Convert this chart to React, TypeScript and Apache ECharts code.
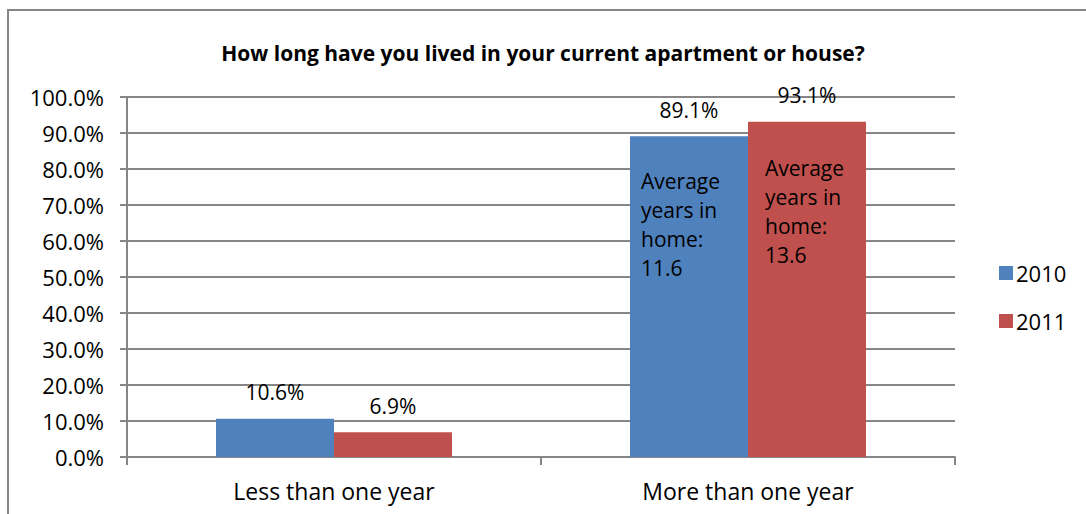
import React, { useEffect, useRef } from "react";
import * as echarts from "echarts";

const categories = ["Less than one year", "More than one year"];
const seriesNames = ["2010", "2011"];
const values2010 = [0.106, 0.891];
const values2011 = [0.069, 0.931];
const notes2010 = ["", "Average\nyears in\nhome:\n11.6"];
const notes2011 = ["", "Average\nyears in\nhome:\n13.6"];
const yTicks = [0, 0.1, 0.2, 0.3, 0.4, 0.5, 0.6, 0.7, 0.8, 0.9, 1.0];
const title = "How long have you lived in your current apartment or house?";

const FONT = "Open Sans";
const BLUE = "#4F81BD";
const RED = "#C0504D";
const GRAY = "#868686";

export default function App() {
  const ref = useRef<HTMLDivElement>(null);
  useEffect(() => {
    if (!ref.current) return;
    const chart = echarts.init(ref.current, undefined, { renderer: "svg" });
    const pct = (v: number) => (v * 100).toFixed(1) + "%";
    const noteSeries = (name: string, vals: number[], notes: string[], offset: number[]) => ({
      name: name + "_note",
      type: "bar",
      xAxisIndex: 1,
      barGap: "0%",
      barCategoryGap: "43%",
      silent: true,
      data: vals.map((v, i) => ({
        value: notes[i] ? v : null,
        label: {
          show: !!notes[i],
          position: offset,
          formatter: () => notes[i],
          fontFamily: FONT,
          fontSize: 21,
          lineHeight: 29,
          color: "#000",
          align: "left",
        },
      })),
      itemStyle: { color: "rgba(0,0,0,0)" },
      z: 5,
    });
    const topLabel = {
      show: true,
      position: "top",
      distance: 16,
      formatter: (p: any) => pct(p.value),
      fontFamily: FONT,
      fontSize: 21,
      color: "#000",
    };
    chart.setOption({
      animation: false,
      textStyle: { fontFamily: FONT },
      title: {
        text: title,
        left: "center",
        top: 37,
        textStyle: { fontFamily: FONT, fontSize: 21, fontWeight: "bold", color: "#000" },
      },
      graphic: [
        {
          type: "rect",
          shape: { x: 8, y: 10, width: 1200, height: 700 },
          style: { fill: "none", stroke: GRAY, lineWidth: 2 },
          silent: true,
        },
      ],
      legend: {
        data: seriesNames,
        orient: "vertical",
        left: 994,
        top: 257,
        itemWidth: 14,
        itemHeight: 14,
        itemGap: 26,
        icon: "rect",
        textStyle: { fontFamily: FONT, fontSize: 22, color: "#000", padding: [0, 0, 0, -2] },
      },
      grid: { left: 127, right: 131, top: 97, bottom: 57, containLabel: false },
      xAxis: [
        {
          type: "category",
          data: categories,
          axisLine: { lineStyle: { color: GRAY, width: 2 } },
          axisTick: { show: true, length: 8, lineStyle: { color: GRAY, width: 2 } },
          axisLabel: { fontFamily: FONT, fontSize: 23, color: "#000", margin: 22 },
        },
        {
          type: "category",
          data: categories,
          show: false,
        },
      ],
      yAxis: {
        type: "value",
        min: 0,
        max: 1,
        interval: 0.1,
        axisLine: { show: true, lineStyle: { color: GRAY, width: 2 } },
        axisTick: { show: true, length: 7, lineStyle: { color: GRAY, width: 2 } },
        splitLine: { lineStyle: { color: GRAY, width: 2 } },
        axisLabel: {
          fontFamily: FONT,
          fontSize: 22,
          color: "#000",
          margin: 23,
          formatter: (v: number) => (yTicks.some((t) => Math.abs(t - v) < 1e-9) ? pct(v) : ""),
        },
      },
      series: [
        {
          name: seriesNames[0],
          type: "bar",
          data: values2010,
          barGap: "0%",
          barCategoryGap: "43%",
          itemStyle: { color: BLUE },
          label: topLabel,
        },
        {
          name: seriesNames[1],
          type: "bar",
          data: values2011,
          itemStyle: { color: RED },
          label: topLabel,
        },
        noteSeries(seriesNames[0], values2010, notes2010, [11, 30]),
        noteSeries(seriesNames[1], values2011, notes2011, [17, 32]),
      ],
    });
    return () => chart.dispose();
  }, []);
  return (
    <div
      ref={ref}
      style={{ position: "fixed", left: 0, top: 0, width: 1086, height: 514, background: "#fff" }}
    />
  );
}
